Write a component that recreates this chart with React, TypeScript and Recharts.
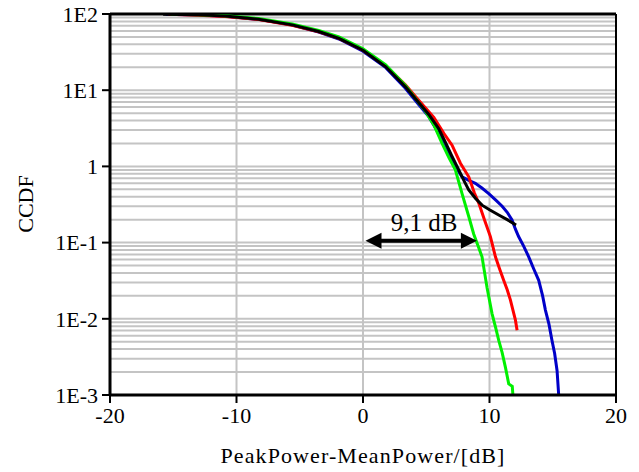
import { LineChart, Line, XAxis, YAxis, CartesianGrid, ReferenceLine } from "recharts";

// PAPR CCDF curves, [dB, %]
const BLACK: [number, number][] = [
  [-15.8, 99.5], [-13, 97.5], [-10.9, 94], [-8.25, 85.5], [-5.6, 72], [-3.5, 59], [-1.9, 48],
  [0, 33.5], [1.8, 20.3], [3.35, 11.1], [4.4, 6.9], [5.2, 4.8], [6.0, 3.1], [6.5, 2.1],
  [7.0, 1.4], [7.57, 0.9], [8.0, 0.64], [8.36, 0.49], [8.9, 0.38], [9.41, 0.31], [10.0, 0.27],
  [10.73, 0.23], [11.4, 0.2], [12.1, 0.17],
];
const GREEN: [number, number][] = [
  [-15.2, 99.5], [-13, 98], [-10.9, 95], [-8.25, 87], [-5.6, 74], [-3.5, 61], [-1.9, 50],
  [0, 35], [1.8, 21.5], [3.35, 11.5], [4.4, 6.9], [4.93, 5.3], [5.6, 3.5], [6.25, 2.0],
  [6.8, 1.3], [7.3, 0.9], [7.83, 0.44], [8.36, 0.22], [8.75, 0.13], [9.1, 0.09], [9.41, 0.065],
  [9.8, 0.026], [10.2, 0.0117], [10.5, 0.0075], [10.73, 0.0052], [11.0, 0.0036], [11.26, 0.0023],
  [11.52, 0.0014], [11.8, 0.0013], [11.85, 0.001],
];
const RED: [number, number][] = [
  [-15.4, 99], [-13, 96.5], [-10.9, 93], [-8.25, 84.5], [-5.6, 71], [-3.5, 58.5], [-1.9, 48],
  [0, 33.5], [1.8, 20.8], [3.35, 11.8], [4.4, 7.4], [5.6, 4.4], [6.4, 2.7], [7.04, 1.9],
  [7.7, 1.1], [8.36, 0.73], [8.8, 0.45], [9.15, 0.33], [9.6, 0.2], [10.07, 0.12], [10.47, 0.065],
  [10.8, 0.045], [11.12, 0.032], [11.4, 0.024], [11.65, 0.0177], [12.05, 0.0096], [12.18, 0.0071],
];
const BLUE: [number, number][] = [
  [-15.6, 99.5], [-13, 97], [-10.9, 93.5], [-8.25, 85], [-5.6, 71.5], [-3.5, 58], [-1.9, 47],
  [0, 32.5], [1.8, 19.8], [3.35, 10.6], [4.4, 6.5], [5.2, 4.5], [6.5, 1.95], [7.3, 1.0],
  [7.83, 0.73], [8.4, 0.65], [8.88, 0.6], [9.4, 0.52], [9.94, 0.44], [10.5, 0.36], [11.0, 0.3],
  [11.4, 0.25], [11.78, 0.198], [12.05, 0.15], [12.3, 0.12], [12.7, 0.09], [13.1, 0.065],
  [13.5, 0.045], [13.89, 0.032], [14.2, 0.02], [14.42, 0.013], [14.7, 0.0085], [14.94, 0.0052],
  [15.15, 0.0035], [15.34, 0.0021], [15.47, 0.001],
];

const X_TICKS = [-20, -10, 0, 10, 20];
const Y_TICKS = [0.001, 0.01, 0.1, 1, 10, 100];
const Y_LABELS = ["1E-3", "1E-2", "1E-1", "1", "1E1", "1E2"];
const DECADES = [0.001, 0.01, 0.1, 1, 10];
const MINOR = DECADES.flatMap((d) => [1, 2, 3, 4, 5, 6, 7, 8, 9].map((m) => m * d)).filter((v) => v > 0.001);

const ARROW = { from: 0.2, to: 9.0, level: 0.106, text: "9,1 dB" };

const FONT = "Liberation Serif";
const GRID = "#c4c4c4";

const toPoints = (arr: [number, number][]) => arr.map(([x, y]) => ({ x, y }));

const SERIES = [
  { name: "blue", data: toPoints(BLUE), color: "#0000c8" },
  { name: "red", data: toPoints(RED), color: "#ff0000" },
  { name: "green", data: toPoints(GREEN), color: "#00f000" },
  { name: "black", data: toPoints(BLACK), color: "#000000" },
];

function ArrowShape(props: any) {
  const { x1, y1, x2, y2 } = props;
  const h = 16;
  const w = 8;
  return (
    <g>
      <line x1={x1 + h - 2} y1={y1} x2={x2 - h + 2} y2={y2} stroke="#000" strokeWidth={4} />
      <polygon points={`${x1},${y1} ${x1 + h},${y1 - w} ${x1 + h},${y1 + w}`} fill="#000" />
      <polygon points={`${x2},${y2} ${x2 - h},${y2 - w} ${x2 - h},${y2 + w}`} fill="#000" />
      <text
        x={(x1 + x2) / 2 + 3}
        y={y1 - 10}
        textAnchor="middle"
        fontFamily={FONT}
        fontSize={25}
        fill="#000"
      >
        {ARROW.text}
      </text>
    </g>
  );
}

export default function App() {
  return (
    <div style={{ position: "absolute", left: 0, top: 0, background: "#fff" }}>
      <LineChart width={639} height={472} margin={{ top: 14, right: 23, bottom: 0, left: 0 }}>
        <CartesianGrid horizontal={false} stroke={GRID} strokeWidth={2} />
        {MINOR.map((v) => (
          <ReferenceLine key={v} y={v} stroke={GRID} strokeWidth={2} />
        ))}
        <XAxis
          type="number"
          dataKey="x"
          domain={[-20, 20]}
          ticks={X_TICKS}
          allowDataOverflow
          height={77}
          axisLine={{ stroke: "#000", strokeWidth: 3 }}
          tickLine={{ stroke: "#000", strokeWidth: 2 }}
          tickSize={8}
          tickMargin={4}
          tick={{ fill: "#000", fontFamily: FONT, fontSize: 22 }}
          label={{
            value: "PeakPower-MeanPower/[dB]",
            position: "insideBottom",
            offset: 9,
            fill: "#000",
            fontFamily: FONT,
            fontSize: 22,
            letterSpacing: 1.1,
          }}
        />
        <YAxis
          type="number"
          dataKey="y"
          scale="log"
          domain={[0.001, 100]}
          ticks={Y_TICKS}
          allowDataOverflow
          width={110}
          tickFormatter={(v: number) => Y_LABELS[Y_TICKS.indexOf(v)] ?? String(v)}
          axisLine={{ stroke: "#000", strokeWidth: 3 }}
          tickLine={{ stroke: "#000", strokeWidth: 2 }}
          tickSize={8}
          tickMargin={4}
          tick={{ fill: "#000", fontFamily: FONT, fontSize: 22 }}
          label={{
            content: () => (
              <text
                x={25}
                y={204}
                transform="rotate(-90 25 204)"
                textAnchor="middle"
                dominantBaseline="central"
                fontFamily={FONT}
                fontSize={22}
                fill="#000"
              >
                CCDF
              </text>
            ),
          }}
        />
        <ReferenceLine y={100} stroke="#000" strokeWidth={3} />
        <ReferenceLine x={20} stroke="#000" strokeWidth={2} />
        {SERIES.map((s) => (
          <Line
            key={s.name}
            data={s.data}
            dataKey="y"
            type="linear"
            stroke={s.color}
            strokeWidth={3}
            dot={false}
            isAnimationActive={false}
          />
        ))}
        <ReferenceLine
          segment={[
            { x: ARROW.from, y: ARROW.level },
            { x: ARROW.to, y: ARROW.level },
          ]}
          shape={ArrowShape}
        />
      </LineChart>
    </div>
  );
}
